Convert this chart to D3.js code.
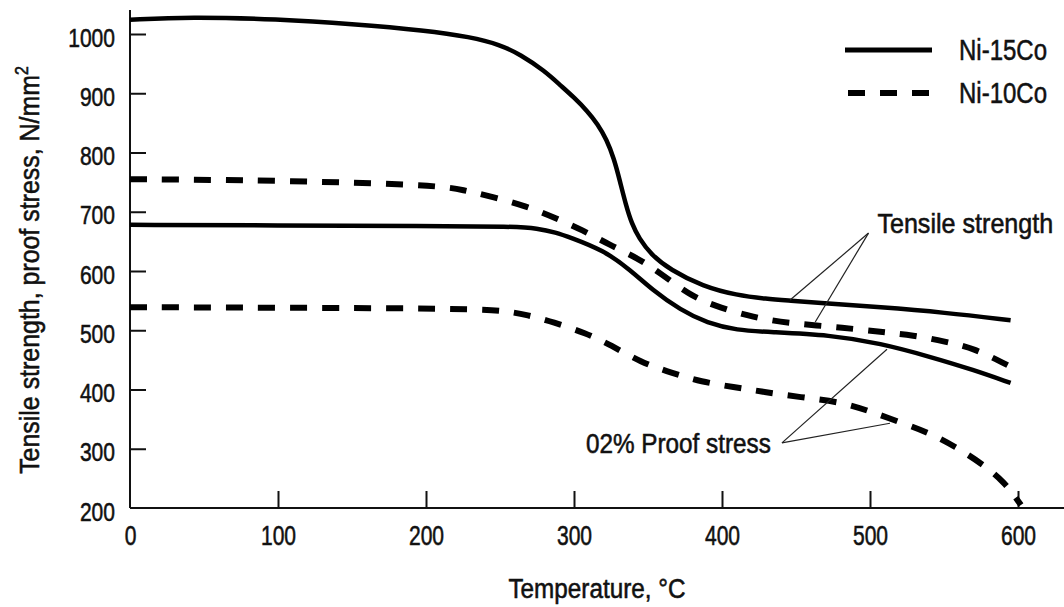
<!DOCTYPE html>
<html>
<head>
<meta charset="utf-8">
<script src="https://cdn.jsdelivr.net/npm/d3@7"></script>
<style>
  html, body { margin: 0; padding: 0; background: #fff; }
  svg { display: block; }
  text { font-family: "Liberation Sans", Arial, sans-serif; fill: #111; stroke: #111; stroke-width: 0.55px; }
</style>
</head>
<body>
<svg id="chart" width="1064" height="607"></svg>
<script>
// Temperature (°C) / stress (N/mm²) readings for each curve
const ni15TensileT = [0, 40, 100, 150, 200, 230, 250, 264, 280, 291, 300, 309, 316, 322, 327, 331, 335, 339, 344, 352, 365, 387, 410, 430, 446, 466, 507, 550, 595];
const ni15TensileV = [1024, 1029, 1025, 1017, 1006, 995, 982, 965, 938, 913, 893, 870, 848, 822, 790, 752, 712, 680, 655, 628, 602, 574, 559, 553, 550, 546, 539, 530, 517];

const ni10TensileT = [0, 100, 207, 225, 245, 266, 286, 306, 324, 343, 358, 380, 399, 421, 444, 484, 507, 529, 552, 570, 593];
const ni10TensileV = [755, 753, 745, 737, 725, 711, 691, 669, 644, 622, 597, 556, 538, 522, 512, 504, 497, 492, 480, 470, 441];

const ni15ProofT = [0, 100, 200, 260, 275, 288, 297, 320, 338, 353, 372, 390, 410, 432, 473, 507, 541, 570, 595];
const ni15ProofV = [678, 677, 676, 675, 672, 665, 657, 635, 602, 568, 534, 512, 500, 497, 492, 478, 455, 433, 411];

const ni10ProofT = [0, 100, 200, 240, 255, 268, 286, 308, 325, 345, 366, 386, 408, 428, 453, 480, 498, 520, 540, 558, 575, 591, 602];
const ni10ProofV = [539, 538, 537, 535, 532, 526, 514, 495, 475, 446, 428, 413, 404, 396, 387, 379, 365, 345, 327, 303, 276, 244, 205];

const xTicks = [0, 100, 200, 300, 400, 500, 600];
const yTicks = [200, 300, 400, 500, 600, 700, 800, 900, 1000];

const seriesNames = ["Ni-15Co", "Ni-10Co"];

// Callout anchors in data units: [temperature, stress]
const tensileLabel = { text: "Tensile strength", at: [505, 664], apex: [499, 664], targets: [[446, 551], [463, 514]] };
const proofLabel = { text: "02% Proof stress", at: [433, 293], apex: [440.5, 310], targets: [[511.5, 468], [513.5, 343]] };

const svg = d3.select("#chart");
const x = d3.scaleLinear().domain([0, 600]).range([130, 1018]);
const y = d3.scaleLinear().domain([200, 1000]).range([508, 34]);

const zip = (ts, vs) => ts.map((t, i) => [t, vs[i]]);
const line = d3.line().x(d => x(d[0])).y(d => y(d[1])).curve(d3.curveBasis);

// Condensed lettering: regular face squeezed horizontally
function label(parent, px, py, str, size, sx, anchor, rotate) {
  const g = parent.append("g")
    .attr("transform", `translate(${px},${py})` + (rotate ? ` rotate(${rotate})` : "") + ` scale(${sx},1)`);
  const t = g.append("text").attr("font-size", size).attr("text-anchor", anchor || "start");
  if (str !== null) t.text(str);
  return t;
}

// Axes
svg.append("line").attr("x1", x(0)).attr("x2", 1064).attr("y1", y(200)).attr("y2", y(200))
  .attr("stroke", "#111").attr("stroke-width", 2);
svg.append("line").attr("x1", x(0)).attr("x2", x(0)).attr("y1", 10).attr("y2", y(200))
  .attr("stroke", "#111").attr("stroke-width", 2);

const xAxis = d3.axisBottom(x).tickValues(xTicks).tickSizeInner(-17).tickSizeOuter(0).tickFormat(d3.format("d"));
const gx = svg.append("g").attr("transform", `translate(0,${y(200)})`).call(xAxis);
gx.select(".domain").remove();
gx.selectAll(".tick text").remove();
gx.selectAll(".tick line").attr("stroke", "#111").attr("stroke-width", 2)
  .filter(d => d === 0).remove();
gx.selectAll(".tick").each(function (d) {
  label(d3.select(this), 0, 37, d3.format("d")(d), 27, 0.78, "middle");
});

const yAxis = d3.axisLeft(y).tickValues(yTicks).tickSizeInner(-16).tickSizeOuter(0).tickFormat(d3.format("d"));
const gy = svg.append("g").attr("transform", `translate(${x(0)},0)`).call(yAxis);
gy.select(".domain").remove();
gy.selectAll(".tick text").remove();
gy.selectAll(".tick line").attr("stroke", "#111").attr("stroke-width", 2)
  .filter(d => d === 200).remove();
gy.selectAll(".tick").each(function (d) {
  label(d3.select(this), -15, 12, d3.format("d")(d), 26, 0.81, "end");
});

// Axis titles
label(svg, 597, 598, "Temperature, °C", 27, 0.9, "middle");
const yt = label(svg, 39, 270, null, 28, 0.89, "middle", -90);
yt.append("tspan").text("Tensile strength, proof stress, N/mm");
yt.append("tspan").attr("dy", -11).attr("font-size", 18).text("2");

// Curves
const curves = [
  { pts: zip(ni15TensileT, ni15TensileV), dash: null },
  { pts: zip(ni10TensileT, ni10TensileV), dash: "17,15" },
  { pts: zip(ni15ProofT, ni15ProofV), dash: null },
  { pts: zip(ni10ProofT, ni10ProofV), dash: "17,15" }
];
svg.append("g").selectAll("path").data(curves).join("path")
  .attr("d", d => line(d.pts))
  .attr("fill", "none")
  .attr("stroke", "#000")
  .attr("stroke-width", d => d.dash ? 6 : 4.5)
  .attr("stroke-dasharray", d => d.dash);

// Callouts
[tensileLabel, proofLabel].forEach(c => {
  c.targets.forEach(tg => {
    svg.append("line")
      .attr("x1", x(c.apex[0])).attr("y1", y(c.apex[1]))
      .attr("x2", x(tg[0])).attr("y2", y(tg[1]))
      .attr("stroke", "#222").attr("stroke-width", 1.2);
  });
});
label(svg, x(tensileLabel.at[0]), y(tensileLabel.at[1]), tensileLabel.text, 27, 0.93, "start");
label(svg, x(proofLabel.at[0]), y(proofLabel.at[1]), proofLabel.text, 27, 0.9, "end");

// Legend
const legend = svg.append("g");
seriesNames.forEach((name, i) => {
  const ly = 50 + i * 43;
  legend.append("line").attr("x1", i ? 848 : 845).attr("x2", i ? 930 : 932).attr("y1", ly).attr("y2", ly)
    .attr("stroke", "#000").attr("stroke-width", i ? 6 : 5)
    .attr("stroke-dasharray", i ? "17,15" : null);
  label(legend, 959, ly + 10, name, 30, 0.8, "start");
});
</script>
</body>
</html>
